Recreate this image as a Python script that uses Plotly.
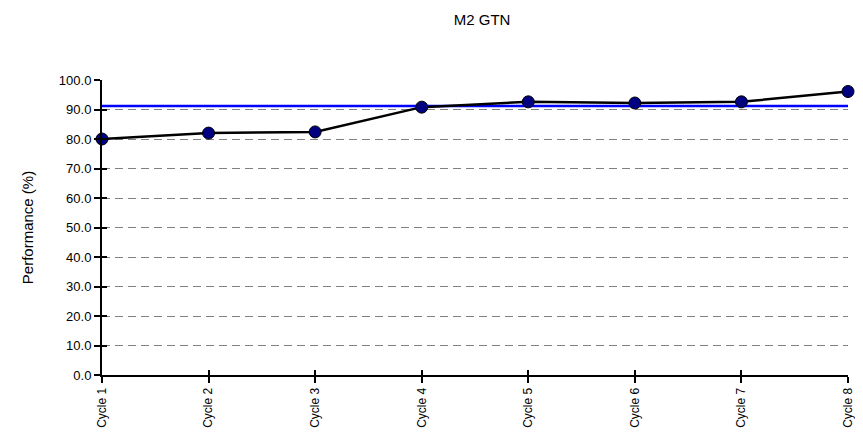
import plotly.graph_objects as go

cycles = ["Cycle 1", "Cycle 2", "Cycle 3", "Cycle 4", "Cycle 5", "Cycle 6", "Cycle 7", "Cycle 8"]
performance = [80.0, 82.0, 82.4, 90.8, 92.6, 92.2, 92.6, 96.1]
target = [91.2, 91.2, 91.2, 91.2, 91.2, 91.2, 91.2, 91.2]
y_ticks = [0, 10, 20, 30, 40, 50, 60, 70, 80, 90, 100]

fig = go.Figure()
# invisible helper trace so the overlay axes (inner halves of the crossing ticks) are drawn
fig.add_trace(go.Scatter(
    x=[None], y=[None], xaxis="x2", yaxis="y2", mode="markers",
    showlegend=False, hoverinfo="skip",
))
fig.add_trace(go.Scatter(
    x=cycles, y=target, mode="lines",
    line=dict(color="#0000FF", width=2.5),
    showlegend=False, hoverinfo="skip", cliponaxis=False,
))
fig.add_trace(go.Scatter(
    x=cycles, y=performance, mode="lines+markers",
    line=dict(color="#000000", width=2.5),
    marker=dict(color="#000080", size=12, line=dict(color="#000000", width=1)),
    showlegend=False, cliponaxis=False,
))

font_family = "Liberation Sans, Arial, sans-serif"
fig.update_layout(
    width=855, height=429,
    margin=dict(l=94, r=8, t=72, b=62),
    paper_bgcolor="white", plot_bgcolor="white",
    title=dict(text="M2 GTN", x=0.5545, xanchor="center", y=0.972, yanchor="middle",
               font=dict(family=font_family, size=15, color="#000000")),
    font=dict(family=font_family, color="#000000"),
    xaxis=dict(
        type="category", range=[0, 7],
        showline=True, linecolor="#000000", linewidth=2,
        ticks="outside", ticklen=6, tickwidth=2, tickcolor="#000000",
        tickangle=-90, tickfont=dict(size=12, family=font_family),
        showgrid=False, zeroline=False,
    ),
    yaxis=dict(
        range=[0, 100], tickvals=y_ticks, tickformat=".1f",
        showline=True, linecolor="#000000", linewidth=2,
        ticks="outside", ticklen=6, tickwidth=2, tickcolor="#000000",
        tickfont=dict(size=13, family=font_family),
        showgrid=True, gridcolor="#808080", gridwidth=1, griddash="8px,5px",
        zeroline=False,
        title=dict(text="Performance (%)", font=dict(size=15, family=font_family), standoff=22),
    ),
    xaxis2=dict(overlaying="x", anchor="y2", side="bottom", range=[0, 7],
                tickvals=list(range(len(cycles))),
                ticks="inside", ticklen=5, tickwidth=2, tickcolor="#000000",
                showticklabels=False, showgrid=False, zeroline=False, showline=False),
    yaxis2=dict(overlaying="y", anchor="x2", side="left", range=[0, 100], tickvals=y_ticks,
                ticks="inside", ticklen=5, tickwidth=2, tickcolor="#000000",
                showticklabels=False, showgrid=False, zeroline=False, showline=False),
)

fig.write_html("out.html")
